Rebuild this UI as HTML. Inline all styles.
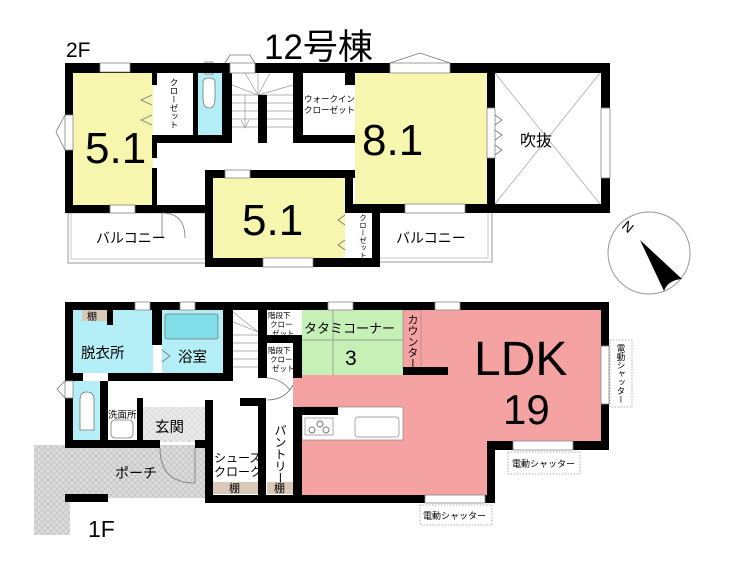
<!DOCTYPE html>
<html><head><meta charset="utf-8"><style>
html,body{margin:0;padding:0;background:#fff;}
svg{display:block}
text{font-family:"Liberation Sans","Noto Sans CJK JP",sans-serif;fill:#000}
</style></head><body>
<svg width="740" height="564" viewBox="0 0 740 564" xmlns="http://www.w3.org/2000/svg">
<defs>
<pattern id="hatch" width="6" height="6" patternUnits="userSpaceOnUse">
<rect width="6" height="6" fill="#dcdcdc"/>
<path d="M0 0L6 6M6 0L0 6" stroke="#c4c4c4" stroke-width="0.8"/>
</pattern>
</defs>
<!-- titles -->
<text x="66" y="57" font-size="21">2F</text>
<text x="264" y="59" font-size="35">12号棟</text>
<text x="88" y="537" font-size="23">1F</text>

<!-- ================= 2F ================= -->
<rect x="68" y="213" width="140" height="50" fill="none" stroke="#999" stroke-width="1"/>
<rect x="71" y="213" width="134" height="46" fill="none" stroke="#bbb" stroke-width="0.8"/>
<rect x="378" y="212" width="114" height="50" fill="none" stroke="#999" stroke-width="1"/>
<rect x="378" y="212" width="110" height="46" fill="none" stroke="#bbb" stroke-width="0.8"/>
<rect x="73" y="73" width="80" height="132" fill="#f6f6ae"/>
<rect x="197" y="73" width="25" height="62" fill="#b4eef6"/>
<rect x="213" y="178" width="132" height="80" fill="#f6f6ae"/>
<rect x="355" y="73" width="132" height="131" fill="#f6f6ae"/>
<line x1="495" y1="73" x2="600" y2="204" stroke="#aaa" stroke-width="0.8"/>
<line x1="600" y1="73" x2="495" y2="204" stroke="#aaa" stroke-width="0.8"/>
<g stroke="#999" stroke-width="0.7" fill="none">
<line x1="232" y1="95" x2="293" y2="95"/>
<line x1="232" y1="103" x2="258" y2="103"/><line x1="232" y1="111" x2="258" y2="111"/><line x1="232" y1="119" x2="258" y2="119"/><line x1="232" y1="127" x2="258" y2="127"/>
<line x1="267" y1="103" x2="293" y2="103"/><line x1="267" y1="111" x2="293" y2="111"/><line x1="267" y1="119" x2="293" y2="119"/><line x1="267" y1="127" x2="293" y2="127"/>
<line x1="258" y1="73" x2="258" y2="95"/><line x1="245" y1="73" x2="258" y2="95"/><line x1="270" y1="73" x2="258" y2="95"/><line x1="232" y1="85" x2="258" y2="95"/><line x1="293" y1="85" x2="258" y2="95"/>
<line x1="245" y1="95" x2="245" y2="127"/><path d="M241 120L245 128L249 120"/>
</g>
<path d="M203 82 Q203 78 209 78 Q215 78 215 82 L215 98 Q215 108 209 108 Q203 108 203 98Z" fill="#fff" stroke="#777" stroke-width="0.8"/>
<rect x="205" y="62" width="8" height="12" fill="#fff" stroke="#777" stroke-width="0.8"/>
<g fill="#000">
<rect x="65" y="63" width="545" height="10"/>
<rect x="65" y="63" width="8" height="150"/>
<rect x="65" y="205" width="140" height="8"/>
<rect x="152" y="73" width="5" height="12"/><rect x="152" y="140" width="5" height="18"/>
<rect x="152" y="135" width="80" height="8"/>
<rect x="193" y="73" width="5" height="70"/>
<rect x="222" y="73" width="10" height="70"/>
<rect x="258" y="95" width="9" height="48"/>
<rect x="293" y="73" width="10" height="70"/>
<rect x="297" y="135" width="58" height="8"/>
<rect x="345" y="73" width="10" height="12"/>
<rect x="152" y="168" width="5" height="45"/>
<rect x="205" y="170" width="150" height="8"/>
<rect x="205" y="170" width="8" height="97"/>
<rect x="205" y="258" width="175" height="9"/>
<rect x="345" y="178" width="8" height="35"/>
<rect x="372" y="212" width="8" height="55"/>
<rect x="345" y="204" width="265" height="9"/>
<rect x="487" y="73" width="8" height="140"/>
<rect x="601" y="63" width="9" height="150"/>
</g>
<g fill="#fff" stroke="#888" stroke-width="0.8">
<rect x="100" y="63" width="30" height="9"/>
<rect x="110" y="205" width="25" height="8"/>
<rect x="65" y="115" width="8" height="35"/>
<rect x="230" y="63" width="25" height="10"/>
<rect x="390" y="63" width="60" height="10"/>
<rect x="405" y="204" width="60" height="9"/>
<rect x="263" y="258" width="50" height="9"/>
<rect x="225" y="170" width="25" height="8"/>
<rect x="601" y="108" width="9" height="70"/>
<rect x="487" y="108" width="8" height="50"/>
</g>
<g fill="none" stroke="#777" stroke-width="0.8">
<path d="M390 63L420 53L450 63"/><path d="M225 63L230 55L250 55L255 63"/>
<path d="M65 115L56 132L65 150"/>
<path d="M152 95L141 100L152 105M152 115L141 120L152 125"/>
<path d="M495 115L502 120L495 125M495 130L502 135L495 140M495 145L502 150L495 155"/>
<path d="M345 215L338 220L345 225M345 240L338 245L345 250"/>
<path d="M162 213 Q185 213 185 238" /><line x1="162" y1="213" x2="162" y2="238"/>
</g>
<text x="85" y="163" font-size="44">5.1</text>
<text x="362" y="155" font-size="44">8.1</text>
<text x="242" y="235" font-size="44">5.1</text>
<text x="520" y="146" font-size="16">吹抜</text>
<text x="304" y="102" font-size="8.5">ウォークイン</text>
<text x="304" y="113" font-size="8.5">クローゼット</text>
<text font-size="8.5" writing-mode="tb" x="174" y="78">クローゼット</text>
<text font-size="7.5" writing-mode="tb" x="363" y="214">クローゼット</text>
<text x="96" y="243" font-size="14">バルコニー</text>
<text x="396" y="243" font-size="14">バルコニー</text>
<circle cx="649" cy="253" r="41" fill="none" stroke="#999" stroke-width="1"/>
<path d="M640 240 L682 279 Q668 280 664 291 Z" fill="#000"/>
<text x="622" y="232" font-size="14" font-family="Liberation Serif" transform="rotate(40 628 228)">N</text>

<!-- ================= 1F ================= -->
<rect x="34" y="445" width="172" height="53" fill="url(#hatch)"/>
<rect x="34" y="498" width="36" height="37" fill="url(#hatch)"/>
<rect x="73" y="310" width="80" height="63" fill="#b4eef6"/>
<rect x="162" y="310" width="61" height="63" fill="#b4eef6"/>
<rect x="73" y="381" width="28" height="60" fill="#b4eef6"/>
<rect x="143" y="407" width="62" height="35" fill="url(#hatch)" opacity="0.6"/>
<rect x="302" y="310" width="101" height="65" fill="#c6f0b6"/>
<line x1="333" y1="310" x2="333" y2="375" stroke="#888" stroke-width="0.7"/>
<line x1="302" y1="340" x2="403" y2="340" stroke="#888" stroke-width="0.7"/>
<path d="M403 310 H601 V441 H495 V496 H302 V407 H293 V375 H403Z" fill="#f4a2a2"/>
<rect x="403" y="310" width="18" height="58" fill="#f4a2a2" stroke="#888" stroke-width="0.6"/>
<rect x="302" y="407" width="101" height="33" fill="#fff" stroke="#888" stroke-width="0.7"/>
<rect x="305" y="418" width="28" height="17" fill="#fff" stroke="#888" stroke-width="0.7"/>
<circle cx="312" cy="430" r="3" fill="none" stroke="#777"/><circle cx="320" cy="424" r="3" fill="none" stroke="#777"/><circle cx="326" cy="430" r="3" fill="none" stroke="#777"/>
<rect x="355" y="417" width="44" height="20" rx="3" fill="#fff" stroke="#888" stroke-width="0.7"/>
<rect x="165" y="314" width="53" height="25" rx="2" fill="#7fdee8" stroke="#777" stroke-width="0.8"/>
<rect x="82" y="310" width="25" height="11" fill="#d8c9b8"/>
<rect x="213" y="482" width="45" height="12" fill="#d8c9b8"/>
<rect x="267" y="482" width="26" height="12" fill="#d8c9b8"/>
<g stroke="#999" stroke-width="0.7">
<line x1="233" y1="335" x2="258" y2="335"/><line x1="233" y1="343" x2="258" y2="343"/><line x1="233" y1="351" x2="258" y2="351"/><line x1="233" y1="359" x2="258" y2="359"/><line x1="233" y1="367" x2="258" y2="367"/>
<line x1="233" y1="312" x2="258" y2="332"/><line x1="233" y1="322" x2="258" y2="332"/>
</g>
<path d="M80 400 Q80 392 87 392 Q94 392 94 400 L94 430 L80 430Z" fill="#fff" stroke="#777" stroke-width="0.8"/>
<rect x="111" y="420" width="22" height="18" rx="4" fill="#fff" stroke="#777" stroke-width="0.8"/>
<g fill="#000">
<rect x="65" y="302" width="544" height="8"/>
<rect x="65" y="302" width="8" height="78"/>
<rect x="65" y="398" width="8" height="50"/>
<rect x="65" y="373" width="18" height="8"/>
<rect x="108" y="373" width="125" height="8"/>
<rect x="107" y="310" width="6" height="15"/>
<rect x="152" y="310" width="10" height="35"/>
<rect x="223" y="310" width="10" height="71"/>
<rect x="258" y="310" width="9" height="68"/>
<rect x="267" y="335" width="35" height="8"/>
<rect x="293" y="343" width="9" height="35"/>
<rect x="403" y="367" width="45" height="8"/>
<rect x="100" y="381" width="8" height="64"/>
<rect x="137" y="398" width="6" height="47"/>
<rect x="65" y="440" width="95" height="8"/>
<rect x="195" y="440" width="18" height="8"/>
<rect x="205" y="400" width="8" height="103"/>
<rect x="240" y="398" width="25" height="8"/>
<rect x="258" y="398" width="8" height="105"/>
<rect x="293" y="407" width="45" height="8"/>
<rect x="293" y="407" width="9" height="90"/>
<rect x="205" y="495" width="290" height="8"/>
<rect x="487" y="441" width="8" height="62"/>
<rect x="487" y="441" width="122" height="9"/>
<rect x="601" y="302" width="8" height="148"/>
<rect x="65" y="494" width="43" height="8"/>
</g>
<g fill="#fff" stroke="#888" stroke-width="0.8">
<rect x="135" y="302" width="15" height="8"/>
<rect x="180" y="302" width="15" height="8"/>
<rect x="328" y="302" width="25" height="8"/>
<rect x="435" y="302" width="25" height="8"/>
<rect x="601" y="346" width="8" height="58"/>
<rect x="513" y="441" width="60" height="9"/>
<rect x="425" y="495" width="60" height="8"/>
<rect x="65" y="381" width="8" height="17"/>
</g>
<g fill="none" stroke="#777" stroke-width="0.8">
<path d="M65 381L57 389L65 398"/>
<path d="M162 350L170 356L162 362"/>
<path d="M160 448 Q160 483 195 483 L195 448"/>
<path d="M267 378 Q280 378 290 390 M267 400 Q285 400 293 385"/>
</g>
<g fill="none" stroke="#999" stroke-width="0.8" stroke-dasharray="1.5 1.5">
<rect x="610" y="340" width="22" height="67"/>
<rect x="508" y="452" width="72" height="22"/>
<rect x="420" y="505" width="72" height="20"/>
</g>
<text x="512" y="467" font-size="9">電動シャッター</text>
<text x="423" y="519" font-size="9">電動シャッター</text>
<text font-size="8.5" writing-mode="tb" x="621" y="344">電動シャッター</text>
<text x="87" y="320" font-size="10">棚</text>
<text x="81" y="358" font-size="14.5">脱衣所</text>
<text x="178" y="362" font-size="14.5">浴室</text>
<text x="108" y="418" font-size="9.5">洗面所</text>
<text x="155" y="432" font-size="14.5">玄関</text>
<text x="115" y="478" font-size="14">ポーチ</text>
<text x="214" y="462" font-size="12">シューズ</text>
<text x="214" y="476" font-size="12">クローク</text>
<text x="229" y="492" font-size="11">棚</text>
<text x="274" y="492" font-size="11">棚</text>
<text font-size="12" writing-mode="tb" x="280" y="424">パントリー</text>
<text x="268" y="318" font-size="7.5">階段下</text>
<text x="270" y="327" font-size="7.5">クロー</text>
<text x="272" y="336" font-size="7.5">ゼット</text>
<text x="268" y="353" font-size="7.5">階段下</text>
<text x="270" y="362" font-size="7.5">クロー</text>
<text x="272" y="371" font-size="7.5">ゼット</text>
<text x="304" y="333" font-size="13">タタミコーナー</text>
<text x="345" y="365" font-size="21">3</text>
<text font-size="11" writing-mode="tb" x="412" y="314">カウンター</text>
<text x="474" y="375" font-size="48">LDK</text>
<text x="503" y="424" font-size="42">19</text>
</svg>
</body></html>
